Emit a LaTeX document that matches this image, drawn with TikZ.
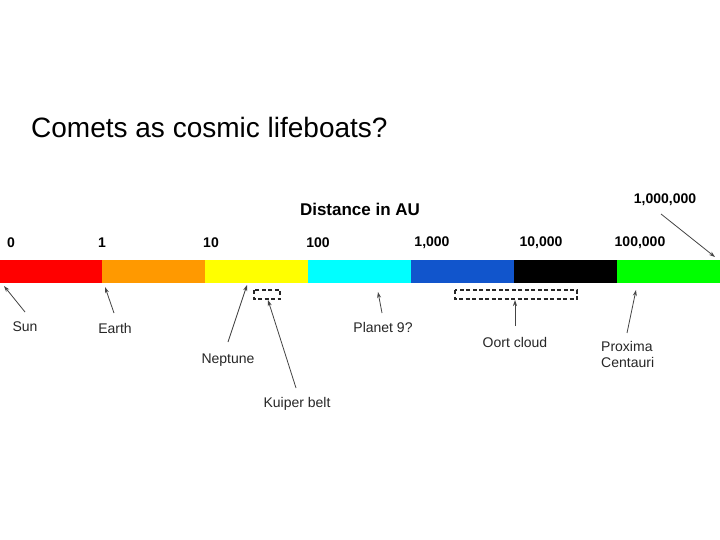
\documentclass[tikz,border=0pt]{standalone}
\usepackage{fontspec}
\setmainfont{Liberation Sans}
\usetikzlibrary{arrows.meta}
\definecolor{cred}{HTML}{FF0000}
\definecolor{corange}{HTML}{FF9900}
\definecolor{cyellow}{HTML}{FFFF00}
\definecolor{ccyan}{HTML}{00FFFF}
\definecolor{cblue}{HTML}{1155CC}
\definecolor{cblack}{HTML}{000000}
\definecolor{cgreen}{HTML}{00FF00}
\definecolor{arrowgray}{HTML}{444444}
\tikzset{
  seg/.style={fill=#1, draw=none},
  num/.style={font=\fontsize{14}{16}\selectfont\bfseries, inner sep=0pt},
  lbl/.style={font=\fontsize{14}{16.5}\selectfont, inner sep=0pt, text=black!85},
  pointer/.style={draw=arrowgray, line width=0.8pt, -{Stealth[length=6pt,width=4pt]}},
  region/.style={draw=black!85, line width=1.2pt, dash pattern=on 4pt off 2.5pt}
}
\begin{document}
\begin{tikzpicture}[x=1pt,y=-1pt]
\useasboundingbox (0,0) rectangle (720,540);
\fill[white] (0,0) rectangle (720,540);
% title
\node[anchor=west, inner sep=0pt, font=\fontsize{28}{31}\selectfont] (title) at (31,127) {Comets as cosmic lifeboats?};
\node[inner sep=0pt, font=\fontsize{17}{20}\selectfont\bfseries] (dist) at (360,209) {Distance in AU};
% bar
\fill[seg=cred] (0,260) rectangle (102,283);
\fill[seg=corange] (102,260) rectangle (205,283);
\fill[seg=cyellow] (205,260) rectangle (308,283);
\fill[seg=ccyan] (308,260) rectangle (411,283);
\fill[seg=cblue] (411,260) rectangle (514,283);
\fill[seg=cblack] (514,260) rectangle (617,283);
\fill[seg=cgreen] (617,260) rectangle (720,283);
% scale numbers
\node[num] (n0) at (11,243) {0};
\node[num] (n1) at (102,243) {1};
\node[num] (n10) at (211,243) {10};
\node[num] (n100) at (318,243) {100};
\node[num] (n1k) at (432,243) {1,000};
\node[num] (n10k) at (541,243) {10,000};
\node[num] (n100k) at (640,243) {100,000};
\node[num] (n1m) at (665,200) {1,000,000};
% pointer targets
\coordinate (tsun) at (4,286);
\coordinate (tearth) at (105,287);
\coordinate (tnep) at (247,285);
\coordinate (tp9) at (378,292);
\coordinate (tprox) at (636,290);
\coordinate (tend) at (715,257);
% dashed regions
\draw[region] (254,290) rectangle (280,299);
\coordinate (kuip) at (268,300);
\draw[region] (455,290) rectangle (577,299);
\coordinate (oort) at (515,300);
% labels
\node[lbl] (sun) at (25,327) {Sun};
\node[lbl] (earth) at (115,328) {Earth};
\node[lbl] (nep) at (228,360) {Neptune};
\node[lbl] (kb) at (297,404) {Kuiper belt};
\node[lbl] (p9) at (383,327) {Planet 9?};
\node[lbl] (oc) at (515,342) {Oort cloud};
\node[lbl, align=left, anchor=north west] (pc) at (601,341) {Proxima\\Centauri};
% pointers
\draw[pointer] (25,312) -- (tsun);
\draw[pointer] (114,313) -- (tearth);
\draw[pointer] (228,342) -- (tnep);
\draw[pointer] (296,388) -- (kuip);
\draw[pointer] (382,313) -- (tp9);
\draw[pointer] (515,326) -- (oort);
\draw[pointer] (627,333) -- (tprox);
\draw[pointer] (661,214) -- (tend);
\end{tikzpicture}
\end{document}
